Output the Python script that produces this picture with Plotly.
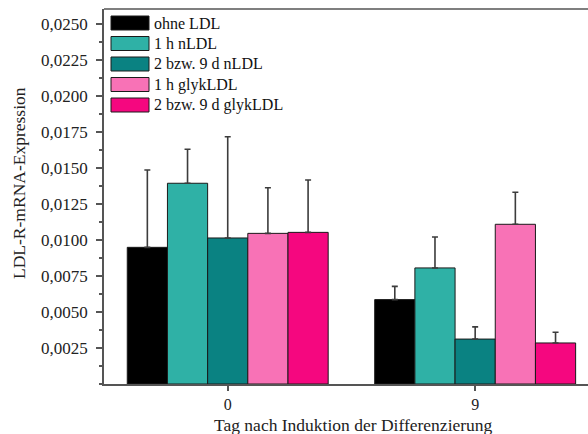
import plotly.graph_objects as go

# Day after induction of differentiation
days = ["0", "9"]

# LDL-R mRNA expression (means) and upper error (SD) per treatment group
series_names = ["ohne LDL", "1 h nLDL", "2 bzw. 9 d nLDL", "1 h glykLDL", "2 bzw. 9 d glykLDL"]
ohne_ldl = [0.00949, 0.00586]
ohne_ldl_err = [0.00537, 0.00092]
h1_nldl = [0.01394, 0.00806]
h1_nldl_err = [0.00236, 0.00215]
d_nldl = [0.01014, 0.00312]
d_nldl_err = [0.00703, 0.00085]
h1_glyk = [0.01046, 0.01109]
h1_glyk_err = [0.00317, 0.00222]
d_glyk = [0.01053, 0.00285]
d_glyk_err = [0.00364, 0.00074]

y_ticks = [0.0025, 0.0050, 0.0075, 0.0100, 0.0125, 0.0150, 0.0175, 0.0200, 0.0225, 0.0250]

x_title = "Tag nach Induktion der Differenzierung"
y_title = "LDL-R-mRNA-Expression"

colors = ["#000000", "#2fb1a6", "#0a8282", "#f872b6", "#f5077f"]
values = [ohne_ldl, h1_nldl, d_nldl, h1_glyk, d_glyk]
errors = [ohne_ldl_err, h1_nldl_err, d_nldl_err, h1_glyk_err, d_glyk_err]

FONT = "Liberation Serif"
W, H = 588, 434
ML, MR, MT, MB = 104, 0, 9, 50

fig = go.Figure()
for name, col, vals, errs in zip(series_names, colors, values, errors):
    fig.add_trace(go.Bar(
        x=days, y=vals, name=name,
        marker=dict(color=col, line=dict(color="#1a1a1a", width=1)),
        error_y=dict(type="data", symmetric=False, array=errs,
                     arrayminus=[0] * len(errs),
                     color="#3c3c3c", thickness=1.6, width=3),
        showlegend=False,
    ))

# Helpers converting pixel positions to paper coordinates
pw, ph = W - ML - MR, H - MT - MB
def px_x(x):
    return (x - ML) / pw
def px_y(y):
    return (H - MB - y) / ph

shapes = []
annotations = []

# Legend drawn as swatches + labels in the upper-left corner of the plot
for i, (name, col) in enumerate(zip(series_names, colors)):
    cy = 23 + i * 20.5
    shapes.append(dict(type="rect", xref="paper", yref="paper",
                       x0=px_x(111), x1=px_x(149), y0=px_y(cy + 7), y1=px_y(cy - 7),
                       fillcolor=col, line=dict(color="#1a1a1a", width=1)))
    annotations.append(dict(xref="paper", yref="paper", x=px_x(152), y=px_y(cy),
                            text=name, showarrow=False, xanchor="left", yanchor="middle",
                            font=dict(family=FONT, size=16, color="#111")))

# Axis titles
annotations.append(dict(xref="paper", yref="paper", x=px_x(353), y=px_y(425),
                        text=x_title, showarrow=False, xanchor="center", yanchor="middle",
                        font=dict(family=FONT, size=17.5, color="#222")))
annotations.append(dict(xref="paper", yref="paper", x=px_x(19), y=px_y(183),
                        text=y_title, showarrow=False, textangle=-90,
                        xanchor="center", yanchor="middle",
                        font=dict(family=FONT, size=17.5, color="#222")))

# Top frame line (the right side stays open)
shapes.append(dict(type="line", xref="paper", yref="paper", x0=0, x1=1, y0=1, y1=1,
                   line=dict(color="#555", width=1.5)))

fig.update_layout(
    width=W, height=H,
    margin=dict(l=ML, r=MR, t=MT, b=MB),
    paper_bgcolor="white", plot_bgcolor="white",
    barmode="group", bargap=0.188, bargroupgap=0,
    separators=",.",
    font=dict(family=FONT, size=16, color="#222"),
    shapes=shapes, annotations=annotations,
    xaxis=dict(type="category", range=[-0.5, 1.456],
               showline=True, linecolor="#555", linewidth=1.5,
               ticks="outside", ticklen=5, tickcolor="#555", tickwidth=1.5,
               tickfont=dict(family=FONT, size=16),
               showgrid=False, zeroline=False),
    yaxis=dict(range=[0, 0.02604], tickvals=y_ticks, tickformat=".4f",
               showline=True, linecolor="#555", linewidth=1.5,
               ticks="outside", ticklen=6, tickcolor="#555", tickwidth=1.5,
               ticklabelstandoff=5,
               minor=dict(dtick=0.00125, tick0=0, ticks="outside", ticklen=3,
                          tickcolor="#555", tickwidth=1.5, showgrid=False),
               tickfont=dict(family=FONT, size=17),
               showgrid=False, zeroline=False),
)

fig.write_html("out.html")
